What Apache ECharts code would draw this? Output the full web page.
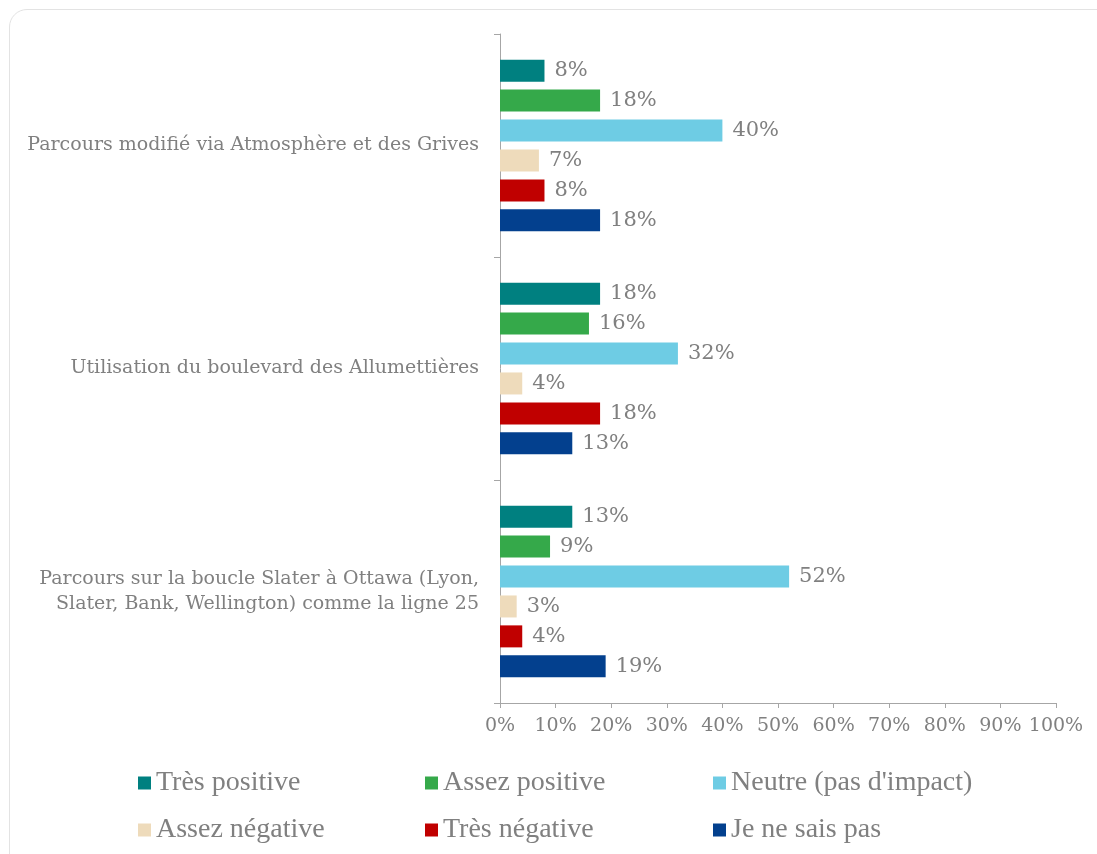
<!DOCTYPE html>
<html>
<head>
<meta charset="utf-8">
<script src="https://cdn.jsdelivr.net/npm/echarts@6/dist/echarts.min.js"></script>
<style>
  html, body { margin: 0; padding: 0; background: #fff; }
  #frame {
    position: absolute; left: 9px; top: 9px; width: 1110px; height: 870px;
    border: 1px solid #e3e3e3; border-radius: 18px; box-sizing: border-box;
  }
  #chart { position: absolute; left: 0; top: 0; width: 1097px; height: 854px; }
</style>
</head>
<body>
<div id="frame"></div>
<div id="chart"></div>
<script>
var categories = [
    'Parcours modifié via Atmosphère et des Grives',
    'Utilisation du boulevard des Allumettières',
    'Parcours sur la boucle Slater à Ottawa (Lyon,\nSlater, Bank, Wellington) comme la ligne 25'
];
var seriesNames = ['Très positive', 'Assez positive', 'Neutre (pas d\'impact)', 'Assez négative', 'Très négative', 'Je ne sais pas'];
var tresPositive = [8, 18, 13];
var assezPositive = [18, 16, 9];
var neutre = [40, 32, 52];
var assezNegative = [7, 4, 3];
var tresNegative = [8, 18, 4];
var neSaisPas = [18, 13, 19];
var xTicks = [0, 10, 20, 30, 40, 50, 60, 70, 80, 90, 100];

window.onload = function () {
    var colors = ['#008080', '#35a94a', '#6ecce4', '#eedbbb', '#c00000', '#03408e'];
    var values = [tresPositive, assezPositive, neutre, assezNegative, tresNegative, neSaisPas];
    var grey = '#808080';

    var series = values.map(function (v, i) {
        return {
            name: seriesNames[i],
            type: 'bar',
            data: v,
            barWidth: 22,
            barGap: '36%',
            itemStyle: { color: colors[i] },
            label: {
                show: true,
                position: 'right',
                distance: 10,
                formatter: '{c}%',
                color: grey,
                fontFamily: 'DejaVu Serif',
                fontSize: 21
            }
        };
    });

    // one legend per item to get the 3-column layout
    var legendPos = [[133, 764], [420, 764], [708, 764], [133, 811], [420, 811], [708, 811]];
    var legends = seriesNames.map(function (n, i) {
        return {
            data: [n],
            left: legendPos[i][0],
            top: legendPos[i][1],
            itemWidth: 13,
            itemHeight: 13,
            icon: 'rect',
            textStyle: { color: grey, fontFamily: 'Liberation Serif', fontSize: 28 },
            selectedMode: false
        };
    });

    var chart = echarts.init(document.getElementById('chart'));
    chart.setOption({
        animation: false,
        legend: legends,
        grid: { left: 500, right: 41, top: 34, bottom: 151, containLabel: false },
        xAxis: {
            type: 'value',
            min: 0,
            max: 100,
            interval: 10,
            axisLine: { show: true, lineStyle: { color: '#a6a6a6' } },
            axisTick: { show: true, length: 5, lineStyle: { color: '#a6a6a6' } },
            splitLine: { show: false },
            axisLabel: {
                formatter: function (v) { return xTicks.indexOf(v) >= 0 ? v + '%' : ''; },
                color: grey,
                fontFamily: 'DejaVu Serif',
                fontSize: 19,
                margin: 14
            }
        },
        yAxis: {
            type: 'category',
            data: categories,
            inverse: true,
            axisLine: { show: true, lineStyle: { color: '#a6a6a6' } },
            axisTick: { show: true, length: 6, lineStyle: { color: '#a6a6a6' } },
            axisLabel: {
                color: grey,
                fontFamily: 'DejaVu Serif',
                fontSize: 19,
                lineHeight: 25,
                margin: 21
            }
        },
        series: series
    });
};
</script>
</body>
</html>
